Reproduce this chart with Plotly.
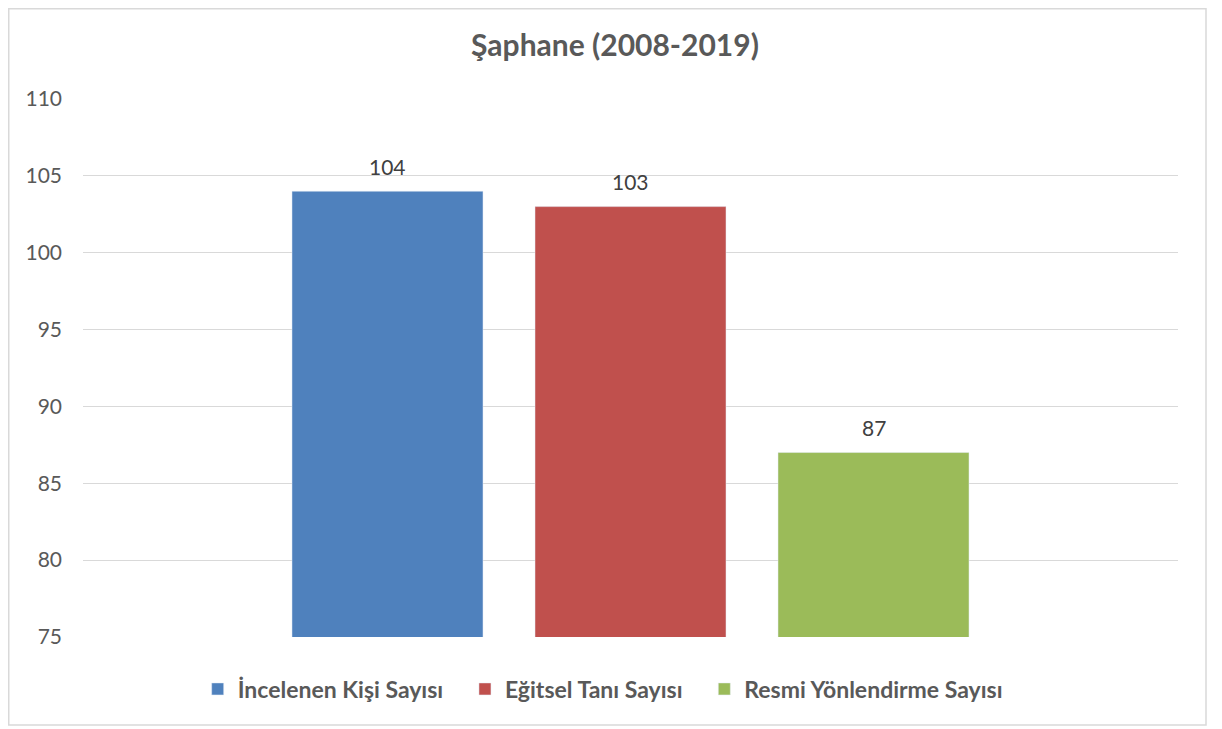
import plotly.graph_objects as go

seriler = ["İncelenen Kişi Sayısı", "Eğitsel Tanı Sayısı", "Resmi Yönlendirme Sayısı"]
degerler = [104, 103, 87]
renkler = ["#4F81BD", "#C0504D", "#9BBB59"]
y_ticks = [75, 80, 85, 90, 95, 100, 105, 110]

# sayfa govdesi 8px kaydiriyor; olculer buna gore
FW, FH = 1214, 721
L, R, T, B = 75, 1170, 91, 629
W, H = R - L, B - T

fig = go.Figure()
for i, (ad, deger, renk) in enumerate(zip(seriler, degerler, renkler)):
    bosluk = "\u00a0" * 3 if i < len(seriler) - 1 else ""
    fig.add_trace(go.Bar(x=[ad], y=[deger], name="<b>" + ad + bosluk + "</b>",
                         marker_color=renk, width=0.786))
    fig.add_annotation(x=ad, y=deger, text=str(deger), showarrow=False,
                       yanchor="middle", yshift=25,
                       font=dict(size=21, color="#404040", family="Lato"))

fig.add_shape(type="rect", xref="paper", yref="paper",
              x0=(0.75 - L) / W, x1=(1198 - L) / W,
              y0=(B - 717) / H, y1=(B - 0.75) / H,
              line=dict(color="#D9D9D9", width=1.5), layer="below")

fig.update_layout(
    width=FW, height=FH,
    margin=dict(l=L, r=FW - R, t=T, b=FH - B),
    paper_bgcolor="white", plot_bgcolor="white",
    barmode="overlay", showlegend=True,
    title=dict(text="<b>Şaphane (2008-2019)</b>", x=0.5, xanchor="center",
               y=1 - 37 / FH, yanchor="middle",
               font=dict(size=30, color="#595959", family="Lato")),
    font=dict(family="Lato", color="#595959"),
    legend=dict(orientation="h", x=0.4746, xanchor="center", y=(B - 681) / H,
                yanchor="middle", font=dict(size=23, color="#595959"),
                traceorder="normal", itemwidth=30),
    xaxis=dict(categoryarray=seriler, categoryorder="array",
               range=[-1.253, 3.253], showticklabels=False,
               showgrid=False, zeroline=False),
    yaxis=dict(range=[75, 110], tickvals=y_ticks, showgrid=True,
               gridcolor="#D9D9D9", gridwidth=1, zeroline=False,
               tickfont=dict(size=21, color="#595959"), ticks="",
               ticklabelstandoff=20),
)

fig.write_html("out.html")
